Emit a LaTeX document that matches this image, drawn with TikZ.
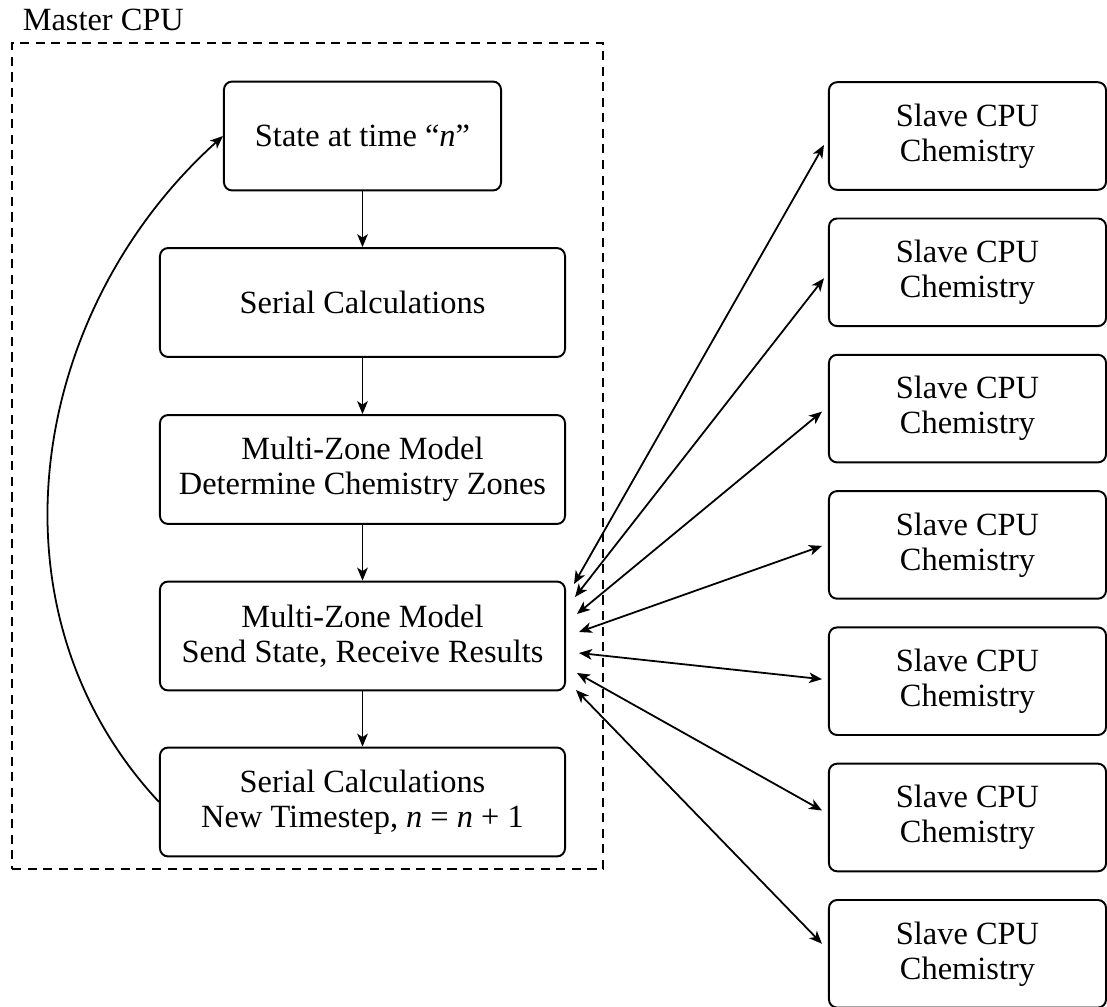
\documentclass[tikz,border=0pt]{standalone}
\usepackage{fontspec}
\setmainfont{Liberation Serif}
\usetikzlibrary{arrows.meta,calc}
\begin{document}
\begin{tikzpicture}[x=0.3086pt,y=0.3086pt,
  every node/.style={font=\fontsize{10}{10.8}\selectfont},
  box/.style={draw,line width=0.6pt,rounded corners=2.5pt,align=center,minimum height=33.6pt},
  widebox/.style={box,minimum width=125pt},
  narrowbox/.style={box,minimum width=85.5pt},
  slavebox/.style={box,minimum width=85.5pt,minimum height=33.2pt},
  tipstyle/.style={},
  arr/.style={line width=0.55pt,-{Stealth[length=4pt,width=3.3pt,inset=1.1pt]}},
  darr/.style={line width=0.55pt,{Stealth[length=4pt,width=3.3pt,inset=1.1pt]}-{Stealth[length=4pt,width=3.3pt,inset=1.1pt]}},
  masterbox/.style={draw,dash pattern=on 2.8pt off 2pt,line width=0.4pt,minimum width=182.4pt,minimum height=254.9pt,inner sep=0pt}]
\useasboundingbox (0,0) rectangle (1107,-1007);

\node[masterbox] (master) at (307.5,-456) {};
\node[anchor=south west] (mlabel) at (master.north west) {Master CPU};

\node[narrowbox] (state) at (362.5,-136) {State at time ``\textit{n}''};
\node[widebox] (ser) at (362.5,-302.5) {Serial Calculations};
\node[widebox] (mz) at (362.5,-469.5) {Multi-Zone Model\\Determine Chemistry Zones};
\node[widebox] (send) at (362.5,-636) {Multi-Zone Model\\Send State, Receive Results};
\node[widebox] (ser2) at (362.5,-802) {Serial Calculations\\New Timestep, \textit{n} = \textit{n} + 1};

\node[slavebox] (s1) at (967.5,-136) {Slave CPU\\Chemistry};
\node[slavebox] (s2) at (967.5,-272.3) {Slave CPU\\Chemistry};
\node[slavebox] (s3) at (967.5,-408.6) {Slave CPU\\Chemistry};
\node[slavebox] (s4) at (967.5,-544.9) {Slave CPU\\Chemistry};
\node[slavebox] (s5) at (967.5,-681.2) {Slave CPU\\Chemistry};
\node[slavebox] (s6) at (967.5,-817.5) {Slave CPU\\Chemistry};
\node[slavebox] (s7) at (967.5,-953.8) {Slave CPU\\Chemistry};

\draw[arr] (state) -- (ser);
\draw[arr] (ser) -- (mz);
\draw[arr] (mz) -- (send);
\draw[arr] (send) -- (ser2);
\draw[arr] (ser2.west) to[out=133,in=222] (state.west);

\draw[darr] ($(send.east)+(8,52)$) -- ($(s1.west)+(-4,-9)$);
\draw[darr] ($(send.east)+(9,39)$) -- ($(s2.west)+(-4,-6)$);
\draw[darr] ($(send.east)+(11,22)$) -- ($(s3.west)+(-6,-3)$);
\draw[darr] ($(send.east)+(13,4)$) -- ($(s4.west)+(-6,-1)$);
\draw[darr] ($(send.east)+(13,-17)$) -- ($(s5.west)+(-6,2)$);
\draw[darr] ($(send.east)+(11,-37)$) -- ($(s6.west)+(-6,7)$);
\draw[darr] ($(send.east)+(10,-54)$) -- ($(s7.west)+(-6,10)$);
\end{tikzpicture}
\end{document}
